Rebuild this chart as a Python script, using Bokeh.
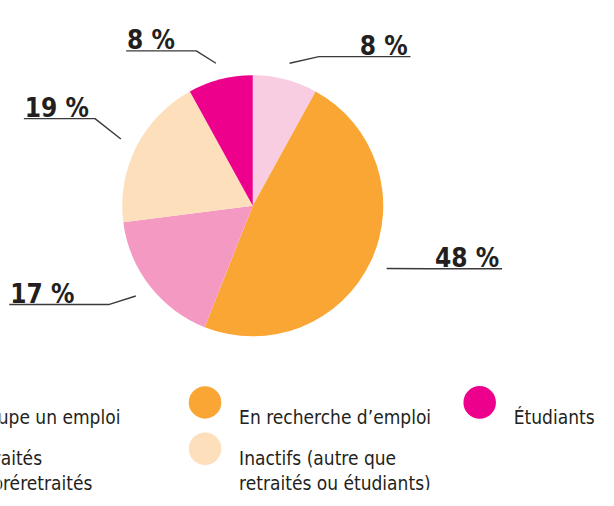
import numpy as np
from bokeh.plotting import figure
from bokeh.models import Range1d, ColumnDataSource
from bokeh.core.properties import value
from bokeh.embed import file_html
from bokeh.resources import INLINE

# ---- data (pie order, clockwise from 12 o'clock) ----
categories = ["Occupe un emploi", "En recherche d’emploi", "Retraités\nou préretraités",
              "Inactifs (autre que\nretraités ou étudiants)", "Étudiants"]
values = [8, 48, 17, 19, 8]
colors = ["#F9CDE1", "#F9A634", "#F49AC2", "#FDDFBC", "#EC008C"]
legend_order = [0, 2, 1, 3, 4]   # column-major legend: col1 rows 1-2, col2 rows 1-2, col3

# ---- layout constants ----
W, H = 598, 490
R = 134
FONT_LBL = "DejaVu Sans Condensed"
TXT = "#231F20"
callout_elbow = [(68, 154), (180, -65), (-148, -102), (-162, 90), (-58, 160)]
callout_run = [94, 76, -102, -73, -72]

p = figure(width=W, height=H, output_backend="svg", toolbar_location=None,
           x_range=Range1d(-259, 355), y_range=Range1d(-294, 212),
           min_border=0, outline_line_color=None, background_fill_color="white",
           border_fill_color="white")
p.axis.visible = False
p.grid.visible = False

vals = np.array(values, dtype=float)
cum = np.cumsum(vals) / vals.sum()
prev = np.concatenate([[0], cum[:-1]])
start = np.pi / 2 - 2 * np.pi * prev
end = np.pi / 2 - 2 * np.pi * cum
src = ColumnDataSource(dict(start=start, end=end, color=colors))
p.wedge(x=0, y=0, radius=R, start_angle="start", end_angle="end", direction="clock",
        fill_color="color", line_color=None, source=src)

# ---- callouts ----
mid = np.pi / 2 - 2 * np.pi * (prev + cum) / 2
xs, ys, tx, ty, tt, ta = [], [], [], [], [], []
for i, v in enumerate(values):
    sx, sy = 152 * np.cos(mid[i]), 152 * np.sin(mid[i])
    ex, ey = callout_elbow[i]
    fx = ex + callout_run[i]
    xs.append([sx, ex, fx]); ys.append([sy, ey, ey])
    if callout_run[i] > 0:
        tx.append(fx - 3); ta.append("right")
    else:
        tx.append(fx + 1); ta.append("left")
    ty.append(ey + 11)
    tt.append(f"{v} %")
p.multi_line(xs, ys, line_color="#3A3A3A", line_width=1.4)
p.text(x=tx, y=ty, text=tt, text_align=ta, text_baseline="alphabetic",
       text_font=value(FONT_LBL), text_font_style="bold", text_font_size="26px",
       text_color=TXT)

# ---- legend ----
col_x = [-330, -49, 233]
row_y = [-203, -251]
row_text_off = [-15, -9]
slots = [(0, 0), (0, 1), (1, 0), (1, 1), (2, 0)]
cx, cy, cc, lx, ly, lt = [], [], [], [], [], []
for slot, idx in zip(slots, legend_order):
    c, r = slot
    cx.append(col_x[c]); cy.append(row_y[r]); cc.append(colors[idx])
    for k, line in enumerate(categories[idx].split("\n")):
        lx.append(col_x[c] + 35)
        ly.append(row_y[r] + row_text_off[r] - 26 * k)
        lt.append(line)
p.circle(x=cx, y=cy, radius=16.7, fill_color=cc, line_color=None)
p.text(x=lx, y=ly, text=lt, text_align="left", text_baseline="alphabetic",
       text_font=value(FONT_LBL), text_font_size="19px", text_color=TXT)

open("out.html", "w").write(file_html(p, INLINE))
